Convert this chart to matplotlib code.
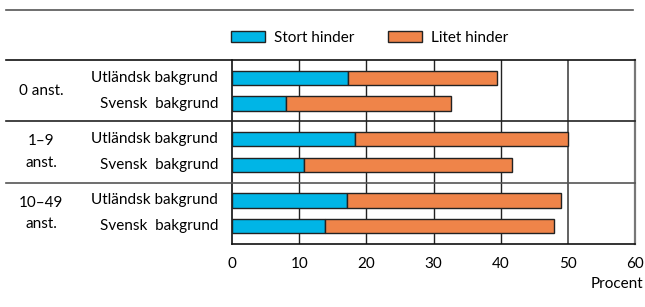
import matplotlib
matplotlib.use("Agg")
import matplotlib.pyplot as plt
from matplotlib.patches import Patch
import numpy as np

plt.rcParams['font.family'] = ['Lato', 'DejaVu Sans']

groups = ["0 anst.", "1–9\nanst.", "10–49\nanst."]
rows = ["Utländsk bakgrund", "Svensk  bakgrund"]
stort = [17.2, 8.0, 18.3, 10.7, 17.1, 13.9]
total = [39.5, 32.6, 50.0, 41.7, 49.0, 47.9]
litet = [t - s for t, s in zip(total, stort)]
xticks = [0, 10, 20, 30, 40, 50, 60]

c_blue = "#00B5E6"
c_orange = "#EF8449"
edge = "#222222"
fs = 11

W, H = 645, 307
fig = plt.figure(figsize=(W / 100, H / 100), dpi=100)
L, R, T, B = 232 / W, 635 / W, 60 / H, 244 / H
ax = fig.add_axes([L, 1 - B, R - L, B - T])

ypos = []
for g in range(len(groups)):
    ypos += [g + 0.5 - 0.21, g + 0.5 + 0.21]
ypos = np.array(ypos)
bh = 0.23

ax.barh(ypos, stort, height=bh, color=c_blue, edgecolor=edge, linewidth=1.0, zorder=3)
ax.barh(ypos, litet, left=stort, height=bh, color=c_orange, edgecolor=edge, linewidth=1.0, zorder=3)

ax.set_xlim(0, 60)
ax.set_ylim(3, 0)
ax.set_xticks(xticks)
ax.set_xticklabels([str(v) for v in xticks], fontsize=fs)
ax.tick_params(axis='x', length=0, pad=9)
ax.set_yticks([])
for x in xticks[1:-1]:
    ax.axvline(x, color="#555555" if x == 50 else "#222222", lw=1.0 if x < 50 else 1.3, zorder=1)

for s in ["left", "bottom"]:
    ax.spines[s].set_color("#111111")
    ax.spines[s].set_linewidth(1.2)
ax.spines["right"].set_color("#777777")
ax.spines["right"].set_linewidth(1.6)
ax.spines["top"].set_visible(False)

# separators extending to the left
xl = (6 - 232) / (635 - 232)
for yv, col in [(0, "#111111"), (1, "#222222"), (2, "#555555")]:
    ax.plot([xl, 1], [yv, yv], transform=ax.get_yaxis_transform(), color=col, lw=1.2, clip_on=False, zorder=4)

# row labels
xlab = (218 - 232) / (635 - 232)
for y, lab in zip(ypos, rows * len(groups)):
    ax.text(xlab, y, lab, transform=ax.get_yaxis_transform(), ha="right", va="center", fontsize=fs)
xg = (41 - 232) / (635 - 232)
for g, lab in enumerate(groups):
    ax.text(xg, g + 0.5, lab, transform=ax.get_yaxis_transform(), ha="center", va="center", fontsize=fs, linespacing=1.65)

# top rule
fig.add_artist(plt.Line2D([6 / W, 633 / W], [1 - 10 / H, 1 - 10 / H], color="#555555", lw=1.2))

# legend
handles = [Patch(facecolor=c_blue, edgecolor=edge, lw=1.0, label="Stort hinder"),
           Patch(facecolor=c_orange, edgecolor=edge, lw=1.0, label="Litet hinder")]
fig.legend(handles=handles, loc="center left", bbox_to_anchor=(231 / W, 1 - 38 / H), ncol=2, frameon=False,
           fontsize=fs, handlelength=2.25, handleheight=0.75, handletextpad=0.55, columnspacing=2.2,
           borderpad=0, borderaxespad=0)

fig.text(643 / W, 1 - 284 / H, "Procent", ha="right", va="center", fontsize=fs)

fig.savefig("out.png", dpi=100)
